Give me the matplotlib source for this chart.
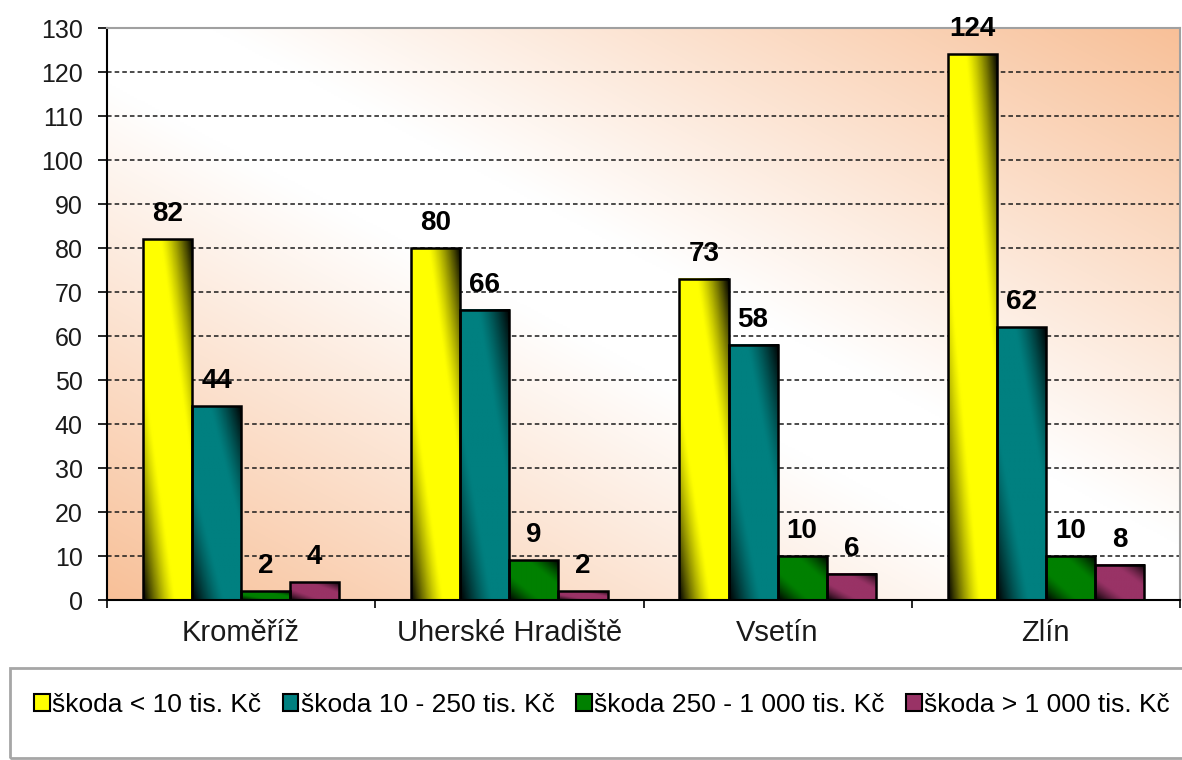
import numpy as np
import matplotlib.pyplot as plt
from matplotlib.colors import to_rgb
from matplotlib.patches import Rectangle

plt.rcParams['font.family'] = ['Liberation Sans', 'DejaVu Sans']

# data
okresy = ['Kroměříž', 'Uherské Hradiště', 'Vsetín', 'Zlín']
serie = ['škoda < 10 tis. Kč', 'škoda 10 - 250 tis. Kč',
         'škoda 250 - 1 000 tis. Kč', 'škoda > 1 000 tis. Kč']
skoda_do_10 = [82, 80, 73, 124]
skoda_10_250 = [44, 66, 58, 62]
skoda_250_1000 = [2, 9, 10, 10]
skoda_nad_1000 = [4, 2, 6, 8]
barvy = ['#FFFF00', '#008080', '#008000', '#993366']

hodnoty = [skoda_do_10, skoda_10_250, skoda_250_1000, skoda_nad_1000]


def prechod(barva, nx=60, ny=200):
    # diagonalni prechod: tmave v levem dolnim a pravem hornim rohu
    u, v = np.meshgrid(np.linspace(0, 1, nx), np.linspace(0, 1, ny))
    d = np.abs(u + v - 1)
    tma = np.clip((d - 0.35) / 0.65, 0, 1) ** 1.3
    return np.array(to_rgb(barva)) * (1 - tma[..., None])


def pozadi(n=300):
    u, v = np.meshgrid(np.linspace(0, 1, n), np.linspace(0, 1, n))
    d = np.abs(u + v - 1)
    g = np.clip((d - 0.1) / 0.9, 0, 1)
    broskev = np.array([248, 192, 152]) / 255
    return 1 - g[..., None] * (1 - broskev)


fig = plt.figure(figsize=(11.82, 7.6), dpi=100)
ax = fig.add_axes([107 / 1182, 160 / 760, 1073 / 1182, 572 / 760])

ax.imshow(pozadi(), extent=(0, 1, 0, 1), transform=ax.transAxes,
          origin='lower', aspect='auto', zorder=0, interpolation='bilinear')

x = np.arange(len(okresy))
w = 0.183
for i, (vals, col) in enumerate(zip(hodnoty, barvy)):
    bars = ax.bar(x + (i - 1.5) * w, vals, w, facecolor='none',
                  edgecolor='black', linewidth=1.8, zorder=3)
    for b, val in zip(bars, vals):
        ax.imshow(prechod(col), origin='lower', aspect='auto', zorder=2,
                  interpolation='bilinear',
                  extent=(b.get_x(), b.get_x() + b.get_width(), 0, b.get_height()))
        ax.annotate(str(val), (b.get_x() + b.get_width() / 2, b.get_height()),
                    xytext=(0, 13), textcoords='offset points', ha='center',
                    va='baseline', fontsize=20, fontweight='bold', zorder=5)

ax.set_xlim(-0.5, 3.5)
ax.set_ylim(0, 130)
ax.set_yticks(range(0, 131, 10))
ax.yaxis.grid(True, linestyle=(0, (3, 2)), color='#1a1a1a', linewidth=1.1)
ax.set_axisbelow(True)

ax.set_xticks(np.arange(-0.5, 4, 1))
ax.set_xticklabels([])
ax.set_xticks(x, minor=True)
ax.set_xticklabels(okresy, minor=True)
ax.tick_params(axis='x', which='major', length=6, width=1.2, direction='out')
ax.tick_params(axis='x', which='minor', length=0, pad=14, labelsize=21, labelcolor='#1a1a1a')
ax.tick_params(axis='y', length=6.5, width=1.2, direction='out', pad=11, labelsize=18,
               labelcolor='#1a1a1a')

for s in ['top', 'right']:
    ax.spines[s].set_color('#A0A0A0')
    ax.spines[s].set_linewidth(1.5)
for s in ['left', 'bottom']:
    ax.spines[s].set_color('black')
    ax.spines[s].set_linewidth(1.5)

# legenda
fig.patches.append(Rectangle((10 / 1182, 2 / 760), 1.2, 90 / 760, transform=fig.transFigure,
                             fill=False, edgecolor='#A6A6A6', linewidth=2))
uchyty = [Rectangle((0, 0), 1, 1, facecolor=c, edgecolor='black', linewidth=1.5) for c in barvy]
fig.legend(uchyty, serie, loc='center left', bbox_to_anchor=(34 / 1182, 1 - 705 / 760),
           ncol=4, frameon=False, fontsize=19, handlelength=0.6, handleheight=0.6,
           handletextpad=0.1, columnspacing=0.8, borderpad=0, borderaxespad=0)

fig.savefig('out.png', dpi=100)
